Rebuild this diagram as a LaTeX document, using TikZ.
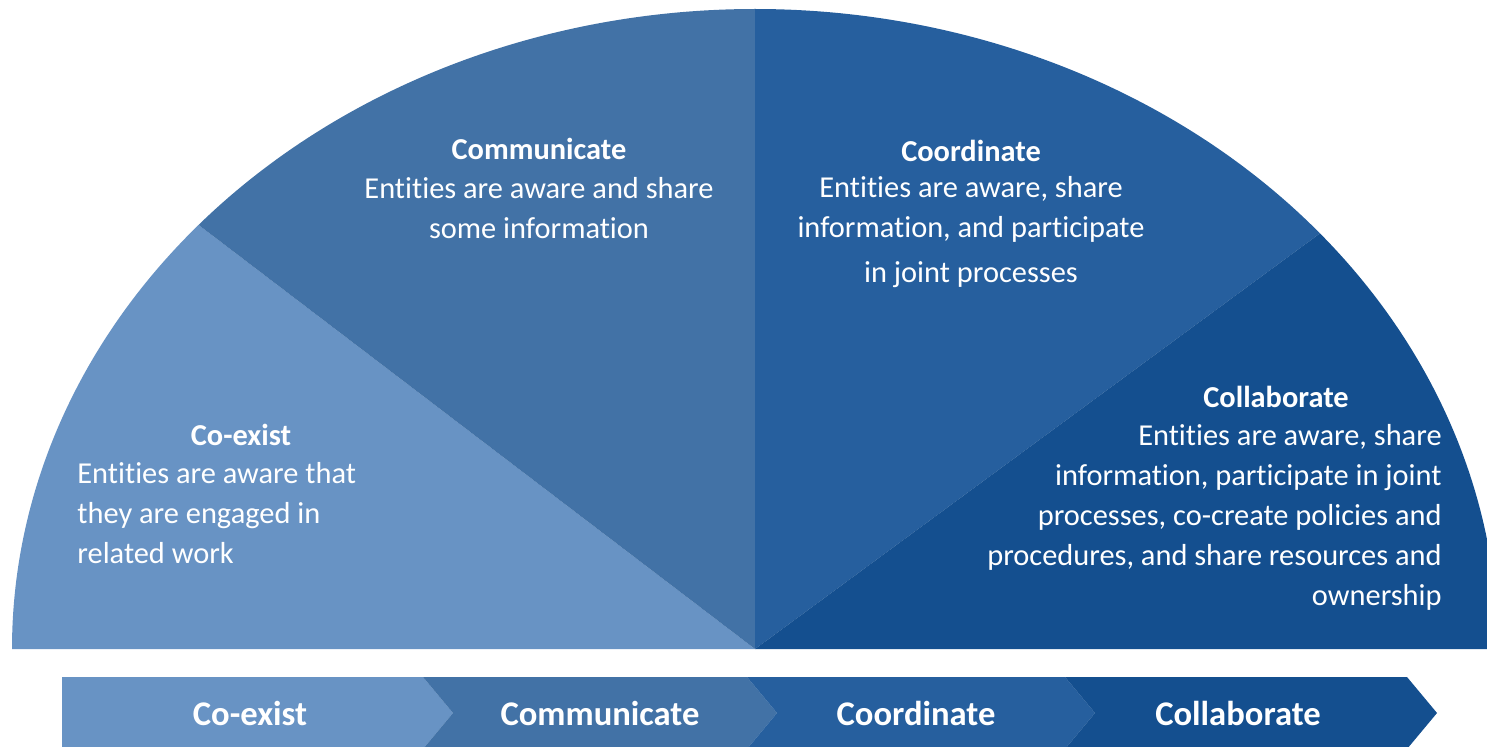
\documentclass[tikz,border=0pt]{standalone}
\usepackage{fontspec}
\setmainfont{Carlito}[RawFeature={-liga;-clig;-calt;-dlig}]
\usepackage{tikz}
\definecolor{coexist}{RGB}{104,147,196}
\definecolor{communicate}{RGB}{66,114,166}
\definecolor{coordinate}{RGB}{38,95,158}
\definecolor{collaborate}{RGB}{20,79,143}

\begin{document}
\begin{tikzpicture}[x=0.5pt,y=0.5pt]
  \def\rx{743}
  \def\ry{640}
  \tikzset{title/.style={text=white,inner sep=0pt,font=\fontsize{15.2}{20}\selectfont\bfseries}}
  \tikzset{body/.style={text=white,inner sep=0pt,font=\fontsize{15.2}{20}\selectfont}}
  \tikzset{band/.style={text=white,inner sep=0pt,font=\fontsize{17.3}{20}\selectfont\bfseries}}
  \useasboundingbox (0,0) rectangle (1487,746);
  \coordinate (centre) at (755,97);
  % half disc, one wedge per stage
  \foreach \a/\b/\c in {180/138.5/coexist,138.5/90/communicate,90/40.5/coordinate,40.5/0/collaborate}
    \fill[\c] (centre) -- ([shift={(centre)}]\a:\rx\space and \ry)
      arc[start angle=\a,end angle=\b,x radius=\rx,y radius=\ry] -- cycle;
  % chevron band
  \fill[coexist] (62,69) -- (423,69) -- (453,33) -- (423,-3) -- (62,-3) -- cycle;
  \fill[communicate] (423,69) -- (747,69) -- (777,33) -- (747,-3) -- (423,-3) -- (453,33) -- cycle;
  \fill[coordinate] (747,69) -- (1065,69) -- (1095,33) -- (1065,-3) -- (747,-3) -- (777,33) -- cycle;
  \fill[collaborate] (1065,69) -- (1407,69) -- (1437,33) -- (1407,-3) -- (1065,-3) -- (1095,33) -- cycle;
  % texts in the wedges
  \node[title] (coexistTitle) at (241,311) {Co-exist};
  \node[body,anchor=west,align=left] (coexistText) at (77,233)
    {Entities are aware that\\they are engaged in\\related work};
  \node[title] (communicateTitle) at (539,597) {Communicate};
  \node[body,align=center] (communicateText) at (539,538)
    {Entities are aware and share\\some information};
  \node[title] (coordinateTitle) at (971,595) {Coordinate};
  \node[body,align=center] (coordinateText) at (971,514)
    {Entities are aware, share\\information, and participate\\[2.5pt]in joint processes};
  \node[title] (collaborateTitle) at (1276,349) {Collaborate};
  \node[body,anchor=east,align=right] (collaborateText) at (1442,229)
    {Entities are aware, share\\information, participate in joint\\processes, co-create policies and\\procedures, and share resources and\\ownership};
  % labels on the band
  \node[band] (coexistBand) at (250,33) {Co-exist};
  \node[band] (communicateBand) at (600,33) {Communicate};
  \node[band] (coordinateBand) at (916,33) {Coordinate};
  \node[band] (collaborateBand) at (1238,33) {Collaborate};
\end{tikzpicture}
\end{document}
